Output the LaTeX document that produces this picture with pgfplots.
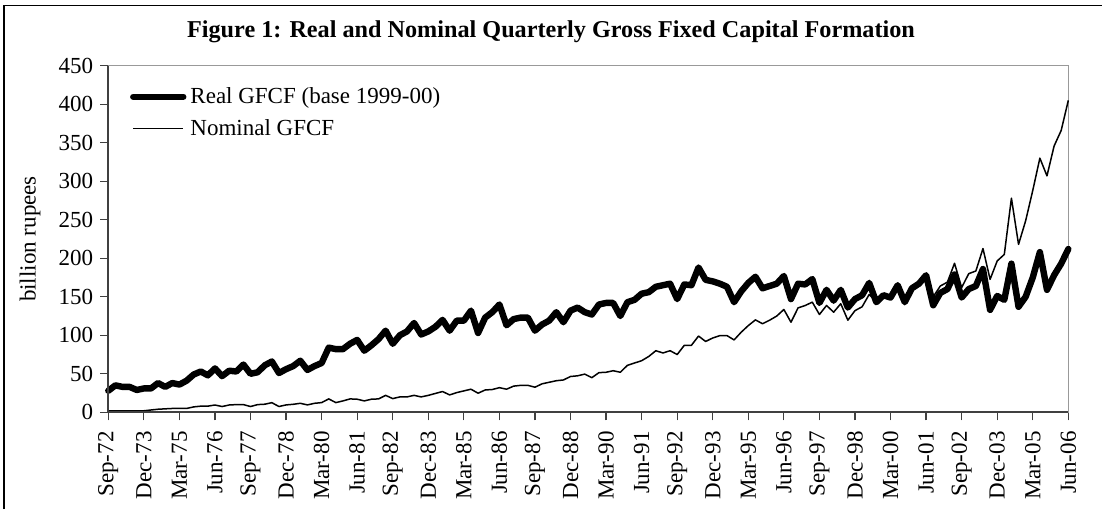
\documentclass[border=0pt]{standalone}
\usepackage{fontspec}
\setmainfont{Liberation Serif}
\usepackage{pgfplots}
\usepackage{pgfplotstable}
\pgfplotsset{compat=1.18}
\pgfplotstableread{
i real nominal
0 28 2
1 35 2
2 33 2
3 33 2
4 29 2
5 31 2
6 31 3
7 38 4
8 33 4.5
9 38 5
10 36 5
11 41 5
12 49 7
13 53 8
14 48 8
15 57 9.5
16 47 7.5
17 54 9.5
18 53 10
19 62 10
20 50 7.5
21 52 10
22 61 10.5
23 66 12.5
24 51 7.5
25 56 9.6
26 60 10.4
27 67 11.7
28 55 9.6
29 60 11.7
30 64 12.6
31 84 17.4
32 82 12.6
33 82 14.8
34 89 17.4
35 94 17
36 80 14.8
37 87 17
38 95 17.4
39 106 22
40 89 17.8
41 100 20
42 105 20
43 116 22
44 101 20
45 105 22
46 111 24.5
47 120 27
48 106 22.6
49 119 25.6
50 119 27.8
51 132 30
52 103 24.8
53 123 29
54 130 29.6
55 140 32
56 113 30
57 121 34
58 123 35
59 123 35
60 106 32.6
61 114 37
62 119 39
63 130 41
64 117 42
65 132 46.5
66 136 47.4
67 130 49.6
68 127 45
69 140 51.5
70 142 52
71 142 54
72 125 52
73 143 61
74 146 64
75 154 67
76 156 72.5
77 163 80
78 165 77
79 167 80
80 147 75
81 166 87
82 165 87
83 188 99
84 172 92
85 170 96.5
86 167 99.6
87 163 99.6
88 143 94
89 157 104
90 168 112.6
91 176 120
92 161 115
93 164 119.6
94 167 125
95 177 133.5
96 147 117
97 167 135.6
98 166 138.7
99 173 143
100 142 127
101 159 138.7
102 145 130
103 159 141
104 136 119.6
105 147 132
106 152 137
107 168 153
108 143 144
109 152 150
110 149 149
111 165 163
112 143 144
113 161 164
114 167 170
115 178 180
116 139 150
117 155 164
118 160 169
119 179 193.5
120 149 162
121 160 180
122 164 183.5
123 186 212.6
124 133 172.6
125 151 196.5
126 146 205
127 193 278
128 137 218
129 150 248.7
130 175 288
131 208 330
132 159 307
133 178 345.7
134 193 366
135 212 405
}\gfcf
\begin{document}
\begin{tikzpicture}
\useasboundingbox (0,0) rectangle (551pt,-254.5pt);
\fill[white] (0,0) rectangle (551pt,-254.5pt);
\draw[line width=0.9pt] (2pt,-254.5pt) -- (2pt,-2.75pt) -- (551pt,-2.75pt);
\node[font=\fontsize{12.1}{14}\selectfont\bfseries] at (275.5pt,-16pt) {Figure 1: Real and Nominal Quarterly Gross Fixed Capital Formation};
\begin{axis}[
 at={(54.15pt,-206.15pt)}, anchor=south west,
 scale only axis, width=480pt, height=173.3pt,
 xmin=0, xmax=135, ymin=0, ymax=450,
 xtick={0,5,...,135},
 xticklabels={Sep-72,Dec-73,Mar-75,Jun-76,Sep-77,Dec-78,Mar-80,Jun-81,Sep-82,Dec-83,Mar-85,Jun-86,Sep-87,Dec-88,Mar-90,Jun-91,Sep-92,Dec-93,Mar-95,Jun-96,Sep-97,Dec-98,Mar-00,Jun-01,Sep-02,Dec-03,Mar-05,Jun-06},
 ytick={0,50,...,450},
 tick align=outside, major tick length=4pt,
 xtick pos=lower, ytick pos=left,
 tick style={black!75, line width=0.6pt},
 axis line style={draw=gray!80, line width=0.6pt},
 ticklabel style={font=\fontsize{11.5}{13}\selectfont},
 /pgf/number format/assume math mode=true,
 xticklabel style={rotate=90, anchor=east},
 xticklabel shift=2pt,
 ylabel={billion rupees},
 ylabel style={font=\fontsize{11.5}{13}\selectfont, at={(axis description cs:-0.0815,0.5)}, anchor=center},
 legend style={at={(rel axis cs:0.016,0.962)}, anchor=north west, draw=none, fill=none,
   font=\fontsize{11.5}{13}\selectfont, row sep=2.5pt},
 legend cell align=left,
 legend image code/.code={\draw[#1] (0pt,0pt) -- (25pt,0pt);},
 clip=false,
]
\addplot[black, line width=3.2pt, line join=round, line cap=round] table[x=i, y=real] {\gfcf};
\addlegendentry{Real GFCF (base 1999-00)}
\addplot[black, line width=0.75pt, line join=round] table[x=i, y=nominal] {\gfcf};
\addlegendentry{Nominal GFCF}
\draw[black!75, line width=0.9pt] (rel axis cs:0,1) -- (rel axis cs:0,0) -- (rel axis cs:1,0);
\end{axis}
\end{tikzpicture}
\end{document}
